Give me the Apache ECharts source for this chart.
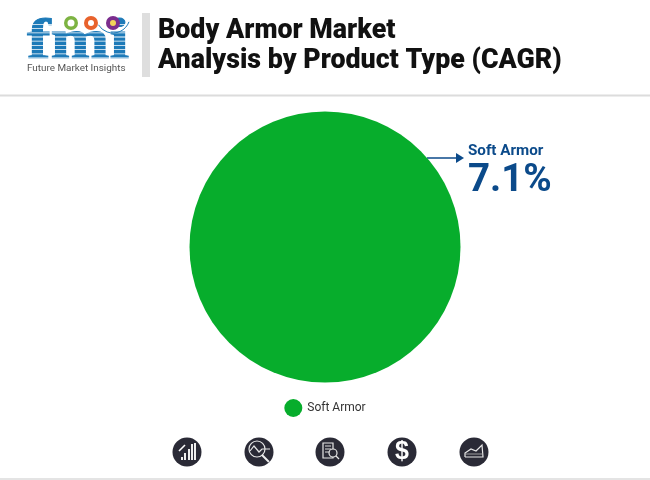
<!DOCTYPE html>
<html><head><meta charset="utf-8">
<style>html,body{margin:0;padding:0;background:#fff}#c{width:650px;height:480px}</style>
<script src="https://cdn.jsdelivr.net/npm/echarts@6/dist/echarts.min.js"></script>
</head><body><div id="c"></div>
<script>
const categories = ['Soft Armor'];
const values = [7.1];
const titleLines = ['Body Armor Market', 'Analysis by Product Type (CAGR)'];
const logoMark = 'fmi';
const logoCaption = 'Future Market Insights';
const sliceColor = '#07ad2c', navy = '#0b4a8a', dark = '#2a2a36', blue = '#1d7ab8';
const chart = echarts.init(document.getElementById('c'), null, {renderer:'canvas'});
const g = [];
g.push({type:'rect',shape:{x:0,y:94.5,width:650,height:2},style:{fill:'#dcdcdc'}});
g.push({type:'rect',shape:{x:0,y:478,width:650,height:2},style:{fill:'#e4e4e4'}});
g.push({type:'rect',shape:{x:142,y:13,width:8,height:64},style:{fill:'#dedede'}});
titleLines.forEach((t,i)=>g.push({type:'text',x:158,y:31.5+i*30,style:{text:t,fill:'#111',font:'900 26.8px Roboto',textVerticalAlign:'middle'}}));
// logo
g.push({type:'text',x:27,y:43,scaleX:1.22,style:{text:logoMark,fill:blue,font:'700 58px "Liberation Serif"',stroke:blue,lineWidth:1,textVerticalAlign:'middle'}});
for(let y=24;y<63;y+=4.2) g.push({type:'rect',shape:{x:26,y,width:104,height:0.8},style:{fill:'#fff'}});
[[71,'#7db342'],[91,'#e8622c'],[113,'#7b2d8e']].forEach(([cx,c])=>g.push({type:'circle',shape:{cx,cy:23,r:7},style:{fill:c}}));
[[71,'#fff',3.5],[91,'#fff',3],[113,'#f1d35a',3]].forEach(([cx,c,r])=>g.push({type:'circle',shape:{cx,cy:23,r},style:{fill:c}}));
g.push({type:'arc',shape:{cx:113,cy:16,r:17,startAngle:0.35,endAngle:2.6,clockwise:true},style:{stroke:blue,fill:'none',lineWidth:1}});
g.push({type:'text',x:27,y:68.5,style:{text:logoCaption,fill:'#555',font:'400 9.9px Roboto',textVerticalAlign:'middle'}});
// callout
g.push({type:'line',shape:{x1:427,y1:158,x2:458,y2:158},style:{stroke:navy,lineWidth:1.5}});
g.push({type:'polygon',shape:{points:[[456,153],[464,158],[456,163]]},style:{fill:navy}});
g.push({type:'text',x:468,y:151,style:{text:categories[0],fill:navy,font:'700 15.2px Roboto',textVerticalAlign:'middle'}});
g.push({type:'text',x:468,y:181,style:{text:values[0].toFixed(1)+'%',fill:navy,font:'700 38.5px Roboto',textVerticalAlign:'middle'}});
// bottom icons
[187,259,330,402,474].forEach((cx,i)=>{
  g.push({type:'circle',shape:{cx,cy:452,r:14.5},style:{fill:dark}});
  const ic={stroke:'#e8e8e8',fill:'none',lineWidth:1.2};
  if(i===0){[[0,3],[3,7],[7,11],[10,16],[13,17]].forEach(([d,h])=>g.push({type:'rect',shape:{x:cx-6+d,y:460-h,width:2,height:h},style:{fill:'#eee'}}));
    g.push({type:'line',shape:{x1:cx-8,y1:451,x2:cx-2,y2:445},style:{stroke:'#fff',lineWidth:1.6}});}
  if(i===1){g.push({type:'circle',shape:{cx:cx-2,cy:449,r:8},style:ic});
    g.push({type:'line',shape:{x1:cx+3,y1:455,x2:cx+10,y2:462},style:{stroke:'#eee',lineWidth:2}});
    g.push({type:'polyline',shape:{points:[[cx-9,451],[cx-5,446],[cx,452],[cx+3,449],[cx+11,449]]},style:ic});}
  if(i===2){g.push({type:'rect',shape:{x:cx-7,y:443,width:10,height:15},style:ic});
    [446,449,452].forEach(y=>g.push({type:'line',shape:{x1:cx-5,y1:y,x2:cx+1,y2:y},style:{stroke:'#ddd',lineWidth:1}}));
    g.push({type:'circle',shape:{cx:cx+3,cy:453,r:4},style:{stroke:'#e8e8e8',fill:dark,lineWidth:1.2}});
    g.push({type:'line',shape:{x1:cx+6,y1:456,x2:cx+9,y2:459},style:ic});}
  if(i===3){g.push({type:'text',x:cx,y:452.5,style:{text:'$',fill:'#fff',font:'900 25px "Liberation Sans"',textAlign:'center',textVerticalAlign:'middle'}});}
  if(i===4){g.push({type:'polyline',shape:{points:[[cx-9,457],[cx-9,453],[cx-3,449],[cx+2,451],[cx+8,445],[cx+9,457],[cx-9,457]]},style:ic});
    g.push({type:'line',shape:{x1:cx-9,y1:454,x2:cx+9,y2:454},style:{stroke:'#bbb',lineWidth:0.8}});}
});
chart.setOption({
  animation:false,
  backgroundColor:'#fff',
  legend:{data:categories,left:'center',top:394,icon:'circle',itemWidth:18,itemHeight:18,itemGap:3,
    textStyle:{fontFamily:'Roboto',fontSize:12,color:'#333'}},
  series:[{type:'pie',center:[325,247],radius:[0,135.5],startAngle:90,
    data:categories.map((name,i)=>({name,value:values[i],itemStyle:{color:sliceColor}})),
    label:{show:false},labelLine:{show:false},silent:true}],
  graphic:{elements:g}
});
</script></body></html>
